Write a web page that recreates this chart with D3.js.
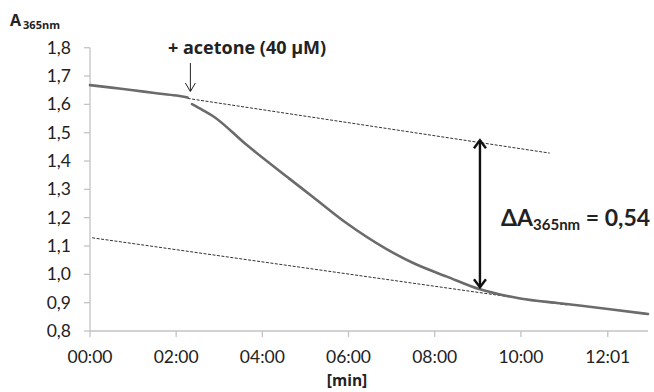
<!DOCTYPE html>
<html>
<head>
<meta charset="utf-8">
<script src="https://cdn.jsdelivr.net/npm/d3@7"></script>
<style>
  body { margin: 0; background: #fff; }
  svg { display: block; font-family: Lato, "Open Sans", sans-serif; }
  .bold { font-family: "Open Sans", Lato, sans-serif; font-weight: bold; }
</style>
</head>
<body>
<svg id="chart" width="654" height="392"></svg>
<script>
// time in seconds, absorbance at 365 nm
const beforeT = [0, 30, 60, 90, 120, 136];
const beforeA = [1.668, 1.659, 1.650, 1.640, 1.631, 1.624];

const afterT = [142, 157, 171, 218, 278, 310, 357, 413, 450, 497, 543, 599, 654, 724, 777];
const afterA = [1.601, 1.580, 1.559, 1.457, 1.337, 1.274, 1.181, 1.089, 1.040, 0.992, 0.947, 0.915, 0.898, 0.877, 0.860];

// baseline extrapolations (dashed)
const upperT = [136, 640];
const upperA = [1.621, 1.428];
const lowerT = [3, 664];
const lowerA = [1.129, 0.892];

// ΔA arrow
const deltaT = 543;
const deltaA = [0.951, 1.477];

const yTicks = [0.8, 0.9, 1.0, 1.1, 1.2, 1.3, 1.4, 1.5, 1.6, 1.7, 1.8];
const xTicks = [0, 120, 240, 360, 480, 600, 721];
const xTickLabels = ['00:00', '02:00', '04:00', '06:00', '08:00', '10:00', '12:01'];

const injectT = 137;

const svg = d3.select('#chart');
const x = d3.scaleLinear().domain([0, 777]).range([90, 648]);
const y = d3.scaleLinear().domain([0.8, 1.8]).range([331, 47.7]);

const axisColor = '#c3c3c3';
const textColor = '#222';

// y axis
svg.append('line')
    .attr('x1', x(0)).attr('x2', x(0))
    .attr('y1', y(1.8)).attr('y2', y(0.8))
    .attr('stroke', axisColor).attr('stroke-width', 1.3);
yTicks.forEach(v => {
  svg.append('line')
      .attr('x1', x(0) - 6).attr('x2', x(0))
      .attr('y1', y(v)).attr('y2', y(v))
      .attr('stroke', axisColor).attr('stroke-width', 1.3);
  svg.append('text')
      .attr('x', 71).attr('y', y(v) + 6)
      .attr('text-anchor', 'end')
      .attr('font-size', 17.5).attr('fill', textColor)
      .text(d3.format('.1f')(v).replace('.', ','));
});

// x axis
svg.append('line')
    .attr('x1', x(0)).attr('x2', x(777))
    .attr('y1', y(0.8)).attr('y2', y(0.8))
    .attr('stroke', axisColor).attr('stroke-width', 1.3);
xTicks.forEach((v, i) => {
  svg.append('line')
      .attr('x1', x(v)).attr('x2', x(v))
      .attr('y1', y(0.8)).attr('y2', y(0.8) + 6)
      .attr('stroke', axisColor).attr('stroke-width', 1.3);
  svg.append('text')
      .attr('x', x(v)).attr('y', 363)
      .attr('text-anchor', 'middle')
      .attr('font-size', 17.5).attr('fill', textColor)
      .text(xTickLabels[i]);
});

// axis titles
const yt = svg.append('text')
    .attr('class', 'bold')
    .attr('x', 10).attr('y', 26)
    .attr('fill', textColor);
yt.append('tspan').attr('font-size', 16).text('A');
yt.append('tspan').attr('font-size', 11).attr('dx', 2).attr('dy', 3).text('365nm');

svg.append('text')
    .attr('class', 'bold')
    .attr('x', 347).attr('y', 386)
    .attr('text-anchor', 'middle')
    .attr('font-size', 15.5).attr('fill', textColor)
    .text('[min]');

// dashed baselines
const line = d3.line().x(d => x(d[0])).y(d => y(d[1]));
[[upperT, upperA], [lowerT, lowerA]].forEach(([ts, as]) => {
  svg.append('path')
      .attr('d', line(d3.zip(ts, as)))
      .attr('fill', 'none').attr('stroke', '#333')
      .attr('stroke-width', 1).attr('stroke-dasharray', '3,1.5');
});

// curve
const curve = d3.line().x(d => x(d[0])).y(d => y(d[1])).curve(d3.curveMonotoneX);
[[beforeT, beforeA], [afterT, afterA]].forEach(([ts, as]) => {
  svg.append('path')
      .attr('d', curve(d3.zip(ts, as)))
      .attr('fill', 'none').attr('stroke', '#6b6b6b')
      .attr('stroke-width', 2.6).attr('stroke-linecap', 'round');
});

// injection marker
const ix = x(injectT) + 2;
svg.append('line')
    .attr('x1', ix).attr('x2', ix)
    .attr('y1', 63).attr('y2', 91)
    .attr('stroke', '#222').attr('stroke-width', 1);
svg.append('path')
    .attr('d', `M${ix - 5},83 L${ix},91.5 L${ix + 5},83`)
    .attr('fill', 'none').attr('stroke', '#222').attr('stroke-width', 1);
svg.append('text')
    .attr('class', 'bold')
    .attr('x', 168).attr('y', 54)
    .attr('font-size', 18).attr('fill', textColor)
    .text('+ acetone (40 µM)');

// ΔA double arrow
const ax = x(deltaT);
const y1 = y(deltaA[1]), y2 = y(deltaA[0]);
svg.append('line')
    .attr('x1', ax).attr('x2', ax)
    .attr('y1', y1 + 1).attr('y2', y2 - 1)
    .attr('stroke', '#111').attr('stroke-width', 2.4);
svg.append('path')
    .attr('d', `M${ax - 6},${y1 + 9} L${ax},${y1 + 1} L${ax + 6},${y1 + 9}`)
    .attr('fill', 'none').attr('stroke', '#111').attr('stroke-width', 2.4);
svg.append('path')
    .attr('d', `M${ax - 6},${y2 - 9} L${ax},${y2 - 1} L${ax + 6},${y2 - 9}`)
    .attr('fill', 'none').attr('stroke', '#111').attr('stroke-width', 2.4);

const dt = svg.append('text')
    .attr('x', 501).attr('y', 226)
    .attr('font-weight', 'bold').attr('fill', textColor);
dt.append('tspan').attr('font-size', 23).text('ΔA');
dt.append('tspan').attr('font-size', 15).attr('dy', 4).text('365nm');
dt.append('tspan').attr('font-size', 23).attr('dy', -4).text(' = 0,54');
</script>
</body>
</html>
